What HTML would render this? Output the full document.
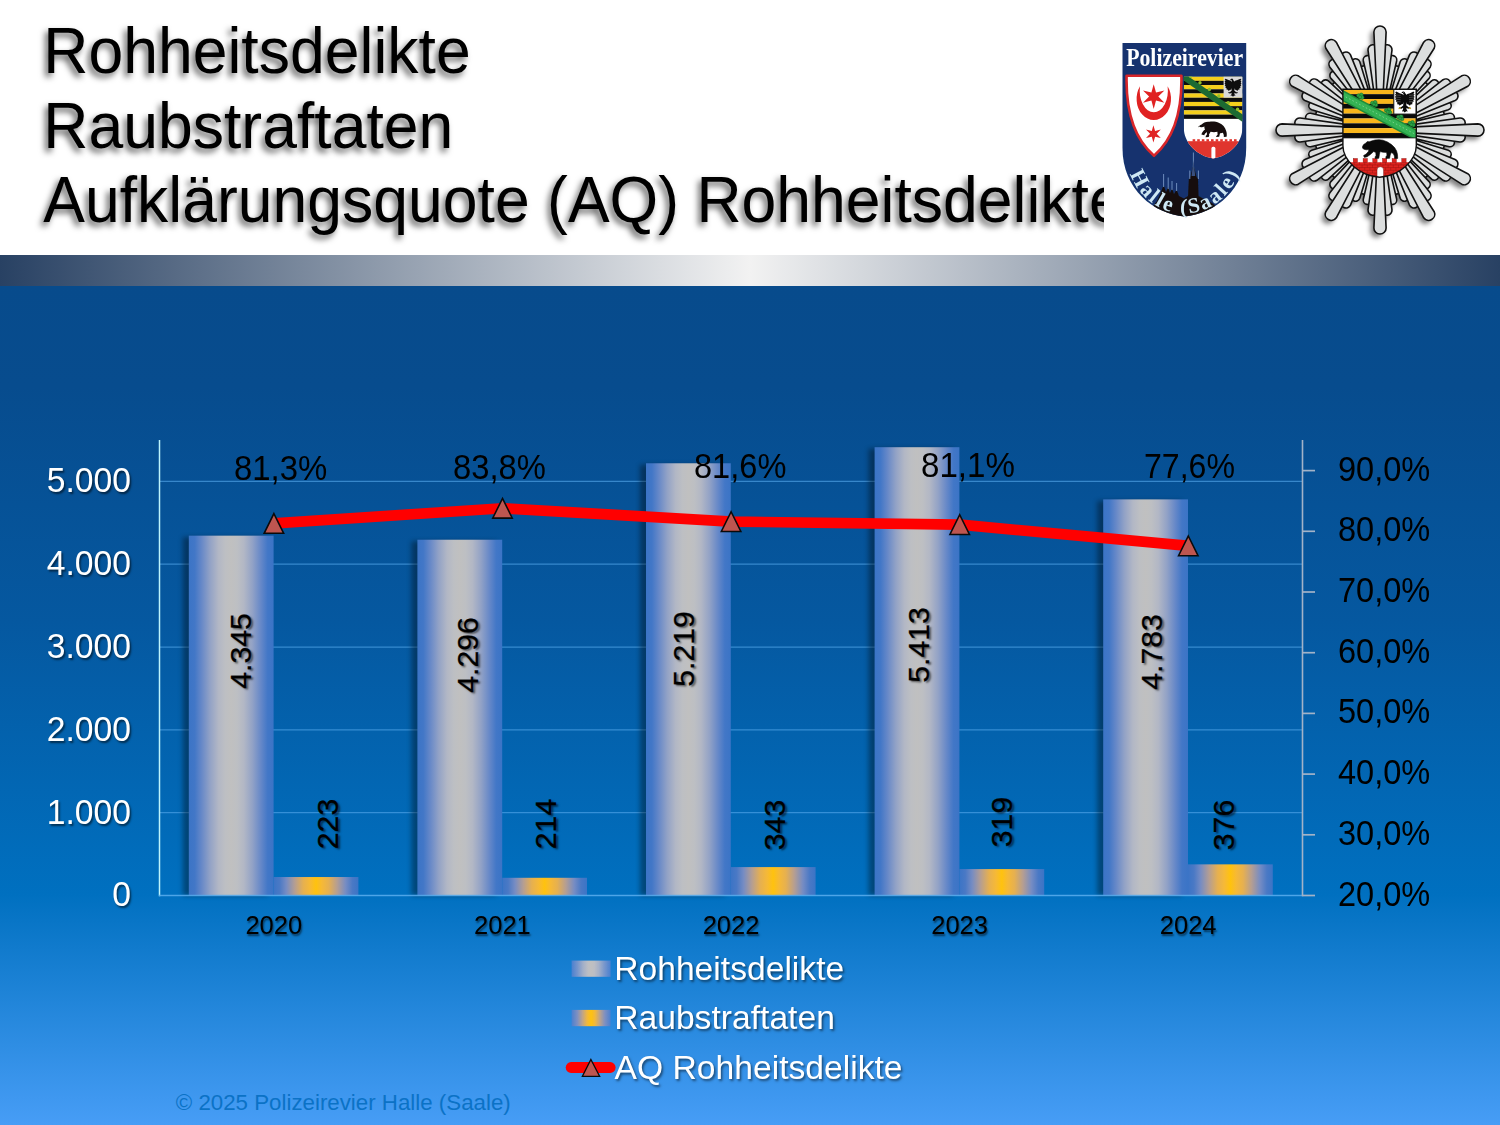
<!DOCTYPE html>
<html><head><meta charset="utf-8"><title>Rohheitsdelikte</title>
<style>
html,body{margin:0;padding:0}
body{width:1500px;height:1125px;overflow:hidden;background:#fff;position:relative;font-family:"Liberation Sans",sans-serif}
.abs{position:absolute}
#bg{position:absolute;left:0;top:286px;width:1500px;height:839px;background:linear-gradient(180deg,#074b8c 0%,#074c8e 12%,#0558a0 40%,#0070c0 72.5%,#479df6 100%)}
#band{position:absolute;left:0;top:255px;width:1500px;height:31px;background:linear-gradient(90deg,#284163 0%,#f2f2f2 50%,#284163 100%)}
#title{position:absolute;left:0;top:0;width:1104px;height:255px;overflow:hidden;color:#000}
#title div{position:absolute;left:43.3px;top:12.8px;font-size:62.5px;line-height:71.58px;white-space:nowrap;transform-origin:0 0;transform:scaleY(1.045);text-shadow:-3px 4px 6px rgba(0,0,0,.62)}
.t{position:absolute;line-height:40px;white-space:nowrap}
.yl{color:#fff;text-shadow:1.5px 1.5px 2px rgba(0,0,0,.55)}
.xl{color:#000;text-shadow:1px 1.5px 2px rgba(0,0,0,.55)}
.rl,.pl{color:#000}
.rt{position:absolute;width:0;height:0}
.rt span{-webkit-text-stroke:0.25px #000;position:absolute;left:-60px;top:-20px;width:120px;height:40px;line-height:40px;text-align:center;font-size:29.6px;color:#000;transform:rotate(-90deg) scaleX(1.02);text-shadow:-1.5px 1.5px 2px rgba(0,0,0,.55);white-space:nowrap}
.lg{color:#fff;text-shadow:1.5px 2px 2.5px rgba(0,0,0,.5)}
.ft{color:#0b72c6}
</style></head>
<body>
<div id="title"><div>Rohheitsdelikte<br>Raubstraftaten<br>Aufklärungsquote (AQ) Rohheitsdelikte</div></div>
<div id="band"></div>
<div id="bg"></div>
<svg class="abs" style="left:0;top:0" width="1500" height="1125" viewBox="0 0 1500 1125"><defs>
<linearGradient id="gGrey" x1="0" x2="1" y1="0" y2="0"><stop offset="0" stop-color="#3b74c6"/><stop offset="0.07" stop-color="#4277c7"/><stop offset="0.15" stop-color="#6688c8"/><stop offset="0.25" stop-color="#92a2c6"/><stop offset="0.35" stop-color="#b2b7c5"/><stop offset="0.43" stop-color="#bdbfc3"/><stop offset="0.5" stop-color="#c0c0c0"/><stop offset="0.57" stop-color="#bdbfc3"/><stop offset="0.65" stop-color="#b2b7c5"/><stop offset="0.75" stop-color="#92a2c6"/><stop offset="0.85" stop-color="#6688c8"/><stop offset="0.93" stop-color="#4277c7"/><stop offset="1" stop-color="#3b74c6"/></linearGradient>
<linearGradient id="gOr" x1="0" x2="1" y1="0" y2="0"><stop offset="0" stop-color="#3b74c6"/><stop offset="0.07" stop-color="#4a79c5"/><stop offset="0.15" stop-color="#768cc3"/><stop offset="0.25" stop-color="#b59e92"/><stop offset="0.35" stop-color="#e6b050"/><stop offset="0.43" stop-color="#f6b936"/><stop offset="0.5" stop-color="#ffc20e"/><stop offset="0.57" stop-color="#f6b936"/><stop offset="0.65" stop-color="#e6b050"/><stop offset="0.75" stop-color="#b59e92"/><stop offset="0.85" stop-color="#768cc3"/><stop offset="0.93" stop-color="#4a79c5"/><stop offset="1" stop-color="#3b74c6"/></linearGradient>
<linearGradient id="gGreyL" x1="0" x2="1" y1="0" y2="0"><stop offset="0" stop-color="#4a80d0"/><stop offset="0.15" stop-color="#7595cc"/><stop offset="0.3" stop-color="#a4b0c8"/><stop offset="0.42" stop-color="#bcbec4"/><stop offset="0.5" stop-color="#c0c0c0"/><stop offset="0.58" stop-color="#bcbec4"/><stop offset="0.7" stop-color="#a4b0c8"/><stop offset="0.85" stop-color="#7595cc"/><stop offset="1" stop-color="#4a80d0"/></linearGradient>
<linearGradient id="gOrL" x1="0" x2="1" y1="0" y2="0"><stop offset="0" stop-color="#4a80d0"/><stop offset="0.15" stop-color="#8090c0"/><stop offset="0.28" stop-color="#c0a488"/><stop offset="0.4" stop-color="#f2b83c"/><stop offset="0.5" stop-color="#ffc20e"/><stop offset="0.6" stop-color="#f2b83c"/><stop offset="0.72" stop-color="#c0a488"/><stop offset="0.85" stop-color="#8090c0"/><stop offset="1" stop-color="#4a80d0"/></linearGradient>
<filter id="lsw" x="-10%" y="-20%" width="120%" height="140%"><feGaussianBlur stdDeviation="0.7"/></filter>
<filter id="bsh" x="-20%" y="-5%" width="140%" height="110%"><feGaussianBlur stdDeviation="2.7"/></filter>
</defs><line x1="160.0" y1="812.68" x2="1303.0" y2="812.68" stroke="#56a8ec" stroke-opacity="0.62" stroke-width="1.25"/><line x1="160.0" y1="729.86" x2="1303.0" y2="729.86" stroke="#56a8ec" stroke-opacity="0.62" stroke-width="1.25"/><line x1="160.0" y1="647.04" x2="1303.0" y2="647.04" stroke="#56a8ec" stroke-opacity="0.62" stroke-width="1.25"/><line x1="160.0" y1="564.22" x2="1303.0" y2="564.22" stroke="#56a8ec" stroke-opacity="0.62" stroke-width="1.25"/><line x1="160.0" y1="481.40" x2="1303.0" y2="481.40" stroke="#56a8ec" stroke-opacity="0.62" stroke-width="1.25"/><rect x="182.80" y="537.15" width="84.80" height="358.35" fill="#000" opacity="0.36" filter="url(#bsh)"/><rect x="188.80" y="535.65" width="84.80" height="359.85" fill="url(#gGrey)"/><rect x="273.60" y="877.03" width="84.80" height="18.47" fill="url(#gOr)"/><rect x="411.40" y="541.21" width="84.80" height="354.29" fill="#000" opacity="0.36" filter="url(#bsh)"/><rect x="417.40" y="539.71" width="84.80" height="355.79" fill="url(#gGrey)"/><rect x="502.20" y="877.78" width="84.80" height="17.72" fill="url(#gOr)"/><rect x="640.00" y="464.76" width="84.80" height="430.74" fill="#000" opacity="0.36" filter="url(#bsh)"/><rect x="646.00" y="463.26" width="84.80" height="432.24" fill="url(#gGrey)"/><rect x="730.80" y="867.09" width="84.80" height="28.41" fill="url(#gOr)"/><rect x="868.60" y="448.70" width="84.80" height="446.80" fill="#000" opacity="0.36" filter="url(#bsh)"/><rect x="874.60" y="447.20" width="84.80" height="448.30" fill="url(#gGrey)"/><rect x="959.40" y="869.08" width="84.80" height="26.42" fill="url(#gOr)"/><rect x="1097.20" y="500.87" width="84.80" height="394.63" fill="#000" opacity="0.36" filter="url(#bsh)"/><rect x="1103.20" y="499.37" width="84.80" height="396.13" fill="url(#gGrey)"/><rect x="1188.00" y="864.36" width="84.80" height="31.14" fill="url(#gOr)"/><line x1="159.5" y1="440.0" x2="159.5" y2="896.2" stroke="#bdf4fc" stroke-width="1.5"/><line x1="159.0" y1="895.5" x2="1303.0" y2="895.5" stroke="#5aaeee" stroke-opacity="0.85" stroke-width="1.3"/><line x1="1302.5" y1="440.0" x2="1302.5" y2="896.2" stroke="#a3b3c8" stroke-width="1.6"/><line x1="1302.5" y1="895.50" x2="1315.0" y2="895.50" stroke="#a3b3c8" stroke-width="1.7"/><line x1="1302.5" y1="834.80" x2="1315.0" y2="834.80" stroke="#a3b3c8" stroke-width="1.7"/><line x1="1302.5" y1="774.10" x2="1315.0" y2="774.10" stroke="#a3b3c8" stroke-width="1.7"/><line x1="1302.5" y1="713.40" x2="1315.0" y2="713.40" stroke="#a3b3c8" stroke-width="1.7"/><line x1="1302.5" y1="652.70" x2="1315.0" y2="652.70" stroke="#a3b3c8" stroke-width="1.7"/><line x1="1302.5" y1="592.00" x2="1315.0" y2="592.00" stroke="#a3b3c8" stroke-width="1.7"/><line x1="1302.5" y1="531.30" x2="1315.0" y2="531.30" stroke="#a3b3c8" stroke-width="1.7"/><line x1="1302.5" y1="470.60" x2="1315.0" y2="470.60" stroke="#a3b3c8" stroke-width="1.7"/><polyline fill="none" stroke="#ff0000" stroke-width="10.7" stroke-linejoin="round" stroke-linecap="butt" points="274.30,523.41 502.90,508.23 731.50,521.59 960.10,524.62 1188.70,545.87"/><path d="M273.90 513.56 L283.66 533.31 L264.14 533.31 Z" fill="#be5650" stroke="#0a0a0a" stroke-width="1.55" stroke-linejoin="miter"/><path d="M502.50 498.38 L512.26 518.13 L492.74 518.13 Z" fill="#be5650" stroke="#0a0a0a" stroke-width="1.55" stroke-linejoin="miter"/><path d="M731.10 511.74 L740.86 531.49 L721.34 531.49 Z" fill="#be5650" stroke="#0a0a0a" stroke-width="1.55" stroke-linejoin="miter"/><path d="M959.70 514.77 L969.46 534.52 L949.94 534.52 Z" fill="#be5650" stroke="#0a0a0a" stroke-width="1.55" stroke-linejoin="miter"/><path d="M1188.30 536.02 L1198.06 555.77 L1178.54 555.77 Z" fill="#be5650" stroke="#0a0a0a" stroke-width="1.55" stroke-linejoin="miter"/><rect x="571.6" y="960.6" width="39" height="16.2" fill="url(#gGreyL)" filter="url(#lsw)"/><rect x="571.6" y="1009.9" width="39" height="16.3" fill="url(#gOrL)" filter="url(#lsw)"/><line x1="571.1" y1="1067.5" x2="610.2" y2="1067.5" stroke="#ff0000" stroke-width="10.8" stroke-linecap="round"/><path d="M590.9 1059.5 L599.6 1076.3 L582.4 1076.3 Z" fill="#be5650" stroke="#0a0a0a" stroke-width="1.35"/></svg>
<div class="t yl" style="top:874.42px;font-size:33.7px;left:-169.00px;width:300px;text-align:right;transform-origin:100% 31.68px;transform:scale(1.0,1.04);">0</div><div class="t yl" style="top:791.60px;font-size:33.7px;left:-169.00px;width:300px;text-align:right;transform-origin:100% 31.68px;transform:scale(1.0,1.04);">1.000</div><div class="t yl" style="top:708.78px;font-size:33.7px;left:-169.00px;width:300px;text-align:right;transform-origin:100% 31.68px;transform:scale(1.0,1.04);">2.000</div><div class="t yl" style="top:625.96px;font-size:33.7px;left:-169.00px;width:300px;text-align:right;transform-origin:100% 31.68px;transform:scale(1.0,1.04);">3.000</div><div class="t yl" style="top:543.14px;font-size:33.7px;left:-169.00px;width:300px;text-align:right;transform-origin:100% 31.68px;transform:scale(1.0,1.04);">4.000</div><div class="t yl" style="top:460.32px;font-size:33.7px;left:-169.00px;width:300px;text-align:right;transform-origin:100% 31.68px;transform:scale(1.0,1.04);">5.000</div><div class="t xl" style="top:905.16px;font-size:25.5px;left:123.80px;width:300px;text-align:center;transform-origin:50% 28.84px;transform:scale(1.0,1.03);">2020</div><div class="t xl" style="top:905.16px;font-size:25.5px;left:352.40px;width:300px;text-align:center;transform-origin:50% 28.84px;transform:scale(1.0,1.03);">2021</div><div class="t xl" style="top:905.16px;font-size:25.5px;left:581.00px;width:300px;text-align:center;transform-origin:50% 28.84px;transform:scale(1.0,1.03);">2022</div><div class="t xl" style="top:905.16px;font-size:25.5px;left:809.60px;width:300px;text-align:center;transform-origin:50% 28.84px;transform:scale(1.0,1.03);">2023</div><div class="t xl" style="top:905.16px;font-size:25.5px;left:1038.20px;width:300px;text-align:center;transform-origin:50% 28.84px;transform:scale(1.0,1.03);">2024</div><div class="t rl" style="top:873.55px;font-size:34.5px;left:1337.80px;transform-origin:0 31.95px;transform:scale(0.942,1.0);">20,0%</div><div class="t rl" style="top:812.85px;font-size:34.5px;left:1337.80px;transform-origin:0 31.95px;transform:scale(0.942,1.0);">30,0%</div><div class="t rl" style="top:752.15px;font-size:34.5px;left:1337.80px;transform-origin:0 31.95px;transform:scale(0.942,1.0);">40,0%</div><div class="t rl" style="top:691.45px;font-size:34.5px;left:1337.80px;transform-origin:0 31.95px;transform:scale(0.942,1.0);">50,0%</div><div class="t rl" style="top:630.75px;font-size:34.5px;left:1337.80px;transform-origin:0 31.95px;transform:scale(0.942,1.0);">60,0%</div><div class="t rl" style="top:570.05px;font-size:34.5px;left:1337.80px;transform-origin:0 31.95px;transform:scale(0.942,1.0);">70,0%</div><div class="t rl" style="top:509.35px;font-size:34.5px;left:1337.80px;transform-origin:0 31.95px;transform:scale(0.942,1.0);">80,0%</div><div class="t rl" style="top:448.65px;font-size:34.5px;left:1337.80px;transform-origin:0 31.95px;transform:scale(0.942,1.0);">90,0%</div><div class="t pl" style="top:448.35px;font-size:34.5px;left:233.80px;transform-origin:0 31.95px;transform:scale(0.953,1.0);">81,3%</div><div class="t pl" style="top:446.95px;font-size:34.5px;left:452.50px;transform-origin:0 31.95px;transform:scale(0.949,1.0);">83,8%</div><div class="t pl" style="top:445.95px;font-size:34.5px;left:693.60px;transform-origin:0 31.95px;transform:scale(0.944,1.0);">81,6%</div><div class="t pl" style="top:444.85px;font-size:34.5px;left:921.10px;transform-origin:0 31.95px;transform:scale(0.96,1.0);">81,1%</div><div class="t pl" style="top:446.05px;font-size:34.5px;left:1144.40px;transform-origin:0 31.95px;transform:scale(0.93,1.0);">77,6%</div><div class="rt" style="left:240.9px;top:651.4px"><span>4.345</span></div><div class="rt" style="left:468.4px;top:655.0px"><span>4.296</span></div><div class="rt" style="left:683.6px;top:649.1px"><span>5.219</span></div><div class="rt" style="left:918.6px;top:644.9px"><span>5.413</span></div><div class="rt" style="left:1151.7px;top:652.1px"><span>4.783</span></div><div class="rt" style="left:328.2px;top:823.8px"><span>223</span></div><div class="rt" style="left:546.0px;top:824.0px"><span>214</span></div><div class="rt" style="left:774.8px;top:825.0px"><span>343</span></div><div class="rt" style="left:1002.0px;top:822.0px"><span>319</span></div><div class="rt" style="left:1223.8px;top:825.3px"><span>376</span></div><div class="t lg" style="top:948.84px;font-size:33.65px;left:614.20px;transform-origin:0 31.66px;transform:scale(1.0,0.985);">Rohheitsdelikte</div><div class="t lg" style="top:997.94px;font-size:33.65px;left:614.20px;transform-origin:0 31.66px;transform:scale(1.0,0.985);">Raubstraftaten</div><div class="t lg" style="top:1047.64px;font-size:33.65px;left:614.60px;transform-origin:0 31.66px;transform:scale(1.0,0.985);">AQ Rohheitsdelikte</div><div class="t ft" style="top:1082.87px;font-size:22.3px;left:175.80px;transform-origin:0 27.73px;">© 2025 Polizeirevier Halle (Saale)</div>
<svg class="abs" id="shield" style="left:0;top:0" width="1500" height="260" viewBox="0 0 1500 260"><defs><clipPath id="shclip"><path d="M1122.5 43.0H1246.2V148C1246.2 190 1214.35 214 1184.35 216.4C1154.35 214 1122.5 190 1122.5 148Z"/></clipPath><filter id="shblur" x="-5%" y="-5%" width="110%" height="110%"><feGaussianBlur stdDeviation="0.55"/></filter><path id="arc" d="M1125.85 150A58.5 63.5 0 0 0 1242.85 150"/></defs><g filter="url(#shblur)"><path d="M1122.5 43.0H1246.2V148C1246.2 190 1214.35 214 1184.35 216.4C1154.35 214 1122.5 190 1122.5 148Z" fill="#12336e"/><g clip-path="url(#shclip)"><path d="M1148 222 L1151 209 L1157 201 L1160.5 193 L1163.6 185 L1166 192 L1168.2 187 L1170 193 L1172 188.5 L1174 194 L1176.6 189.5 L1179 196 L1184 198.5 L1188 196 L1188.8 179 L1190.4 176.5 L1193.4 165 L1196.4 176.5 L1198 179 L1198.6 196 L1204 199 L1212 203 L1218 208 L1221 222 Z" fill="#15110f"/><path d="M1193.4 152.5V167M1189.8 170.5V179M1198.4 170.5V179M1163.6 174V187M1168.2 177.5V189M1172 181V190M1176.6 183V191" stroke="#7f9bcb" stroke-width="1" fill="none" opacity="0.85"/><path d="M1193.4 160L1191.6 176H1195.2Z" fill="#39507f"/></g><text x="1184.6499999999999" y="66.4" text-anchor="middle" font-family="Liberation Serif" font-weight="bold" font-size="21.4" fill="#fff" transform="translate(0 66.4) scale(1 1.2) translate(0 -66.4)" textLength="117" lengthAdjust="spacingAndGlyphs">Polizeirevier</text><path d="M1126.6 75.8H1181.4C1182.4 118 1170.0 142 1154.0 155.8C1138.0 142 1125.6 118 1126.6 75.8Z" fill="#fff" stroke="#d8262a" stroke-width="2.6" stroke-linejoin="round"/><path fill="#e02222" d="M1140 86.2A17.2 21.2 0 1 0 1167.6 86.2A14.1 21.6 0 1 1 1140 86.2Z"/><polygon fill="#e02222" points="1153.7,84.2 1156.0,92.6 1164.4,90.4 1158.3,96.6 1164.4,102.8 1156.0,100.6 1153.7,109.0 1151.4,100.6 1143.0,102.8 1149.1,96.6 1143.0,90.4 1151.4,92.6"/><polygon fill="#e02222" points="1153.4,125.2 1155.1,130.9 1160.8,129.5 1156.7,133.8 1160.8,138.1 1155.1,136.7 1153.4,142.4 1151.8,136.7 1146.0,138.1 1150.1,133.8 1146.0,129.5 1151.8,130.9"/><clipPath id="saclip"><path d="M1183.8 76.6H1242.4V128C1242.4 142 1230.1 156 1213.1 158.4C1196.1 156 1183.8 142 1183.8 128Z"/></clipPath><g clip-path="url(#saclip)"><rect x="1183.8" y="76.6" width="58.600000000000136" height="90" fill="#fff"/><rect x="1183.8" y="76.60" width="58.600000000000136" height="4.27" fill="#f4cf1c"/><rect x="1183.8" y="80.82" width="58.600000000000136" height="4.27" fill="#0c0c0c"/><rect x="1183.8" y="85.04" width="58.600000000000136" height="4.27" fill="#f4cf1c"/><rect x="1183.8" y="89.26" width="58.600000000000136" height="4.27" fill="#0c0c0c"/><rect x="1183.8" y="93.48" width="58.600000000000136" height="4.27" fill="#f4cf1c"/><rect x="1183.8" y="97.70" width="58.600000000000136" height="4.27" fill="#0c0c0c"/><rect x="1183.8" y="101.92" width="58.600000000000136" height="4.27" fill="#f4cf1c"/><rect x="1183.8" y="106.14" width="58.600000000000136" height="4.27" fill="#0c0c0c"/><rect x="1183.8" y="110.36" width="58.600000000000136" height="4.27" fill="#f4cf1c"/><rect x="1183.8" y="114.58" width="58.600000000000136" height="4.27" fill="#0c0c0c"/><rect x="1223.6" y="76.6" width="19" height="21" fill="#d9d9d9"/><path d="M1233.5 80.5L1233.0 79.3L1232.1 78.6L1230.9 78.9L1230.1 80.0L1231.3 80.0L1231.8 80.8L1232.0 81.9L1230.8 80.8L1228.5 80.1L1225.6 78.8L1224.7 79.5L1225.6 80.5L1224.6 81.4L1225.4 82.4L1224.5 83.3L1225.4 84.4L1224.7 85.4L1225.8 86.3L1225.3 87.5L1226.6 88.2L1226.5 89.6L1228.0 89.8L1228.5 91.0L1229.9 90.0L1231.3 89.4L1231.8 87.7L1231.6 90.7L1229.7 92.2L1228.2 92.0L1228.7 93.2L1230.2 93.6L1231.6 92.7L1231.5 94.3L1230.4 96.0L1231.8 95.6L1233.0 96.8L1234.2 95.6L1235.6 96.0L1234.5 94.3L1234.4 92.7L1235.8 93.6L1237.3 93.2L1237.8 92.0L1236.3 92.2L1234.4 90.7L1234.2 87.7L1234.7 89.4L1236.1 90.0L1237.5 91.0L1238.0 89.8L1239.5 89.6L1239.4 88.2L1240.7 87.5L1240.2 86.3L1241.3 85.4L1240.6 84.4L1241.5 83.3L1240.6 82.4L1241.4 81.4L1240.4 80.5L1241.3 79.5L1240.4 78.8L1237.5 80.1L1235.2 80.8L1234.0 81.9L1234.4 81.4Z" fill="#0c0c0c"/><path d="M1180.0 78.0L1242.6 122.0L1246.2 117.0L1183.6 73.0Z" fill="#1f6a33"/><g fill="#8fbf2a"><circle cx="1190.6" cy="76.2" r="1.7"/><circle cx="1200.0" cy="82.8" r="1.7"/><circle cx="1209.4" cy="89.4" r="1.7"/><circle cx="1218.8" cy="96.0" r="1.7"/><circle cx="1228.2" cy="102.6" r="1.7"/><circle cx="1237.6" cy="109.2" r="1.7"/></g><rect x="1183.8" y="141.2" width="58.600000000000136" height="20" fill="#e0342e"/><rect x="1192.6" y="139.2" width="2.6" height="2.4" fill="#e0342e"/><rect x="1197.2" y="139.2" width="2.6" height="2.4" fill="#e0342e"/><rect x="1201.8" y="139.2" width="2.6" height="2.4" fill="#e0342e"/><rect x="1206.4" y="139.2" width="2.6" height="2.4" fill="#e0342e"/><rect x="1211.0" y="139.2" width="2.6" height="2.4" fill="#e0342e"/><rect x="1215.6" y="139.2" width="2.6" height="2.4" fill="#e0342e"/><rect x="1220.2" y="139.2" width="2.6" height="2.4" fill="#e0342e"/><rect x="1224.8" y="139.2" width="2.6" height="2.4" fill="#e0342e"/><rect x="1229.4" y="139.2" width="2.6" height="2.4" fill="#e0342e"/><rect x="1234.0" y="139.2" width="2.6" height="2.4" fill="#e0342e"/><rect x="1211.4" y="146.8" width="4" height="12" rx="1.6" fill="#fff"/><path d="M1198.2 128 c0.4 -1.8 1.8 -3 3.4 -3.4 c1.6 -2.2 4.6 -3.2 7.8 -2.8 c3.2 -0.6 6.8 -0.2 9.8 1.2 c3.4 1.4 6 4.2 6.8 7.6 c0.8 2 1 4.2 0.6 6.2 l-2.8 0.2 c0.2 -1.6 -0.2 -3 -1 -4.2 c-0.8 0.4 -1.8 0.6 -2.8 0.4 l-0.8 3.6 l-3.2 0.2 c0.2 -1 0.8 -1.8 1.6 -2.2 l-0.2 -3 c-2.2 0.6 -4.6 0.6 -6.8 0 l-1.6 2.6 c0.4 0.8 0.2 1.8 -0.4 2.6 l-3 0.2 c0 -1 0.4 -1.8 1.2 -2.4 l0.2 -2.8 c-1.2 0.8 -2.2 1.8 -2.8 3.2 l-2.8 -0.6 c0.6 -2 1.8 -3.8 3.6 -5 c-0.6 -1 -0.8 -2 -0.6 -3 c-1.4 0.6 -2.8 0.8 -4.2 0.4 c-0.8 -0.2 -1.4 -0.6 -1.6 -1.2 Z" fill="#14110e"/></g><text font-family="Liberation Serif" font-weight="bold" font-size="21.5" fill="#cfe8f4"><textPath href="#arc" startOffset="50%" text-anchor="middle" textLength="143" lengthAdjust="spacing">Halle (Saale)</textPath></text></g></svg>
<svg class="abs" id="star" style="left:0;top:0" width="1500" height="260" viewBox="0 0 1500 260"><defs><filter id="stsh" x="-10%" y="-10%" width="120%" height="120%"><feGaussianBlur stdDeviation="2.5"/></filter></defs><g fill="#000" opacity="0.5" filter="url(#stsh)" transform="translate(-3.6 3.8)"><path d="M1384.7 106.4L1392.3 68.6A4.0 4.0 0 0 1 1400.0 70.7L1387.8 107.2ZM1395.8 111.9L1421.4 83.0A4.0 4.0 0 0 1 1427.0 88.6L1398.1 114.2ZM1402.8 122.2L1439.3 110.0A4.0 4.0 0 0 1 1441.4 117.7L1403.6 125.3ZM1403.6 134.7L1441.4 142.3A4.0 4.0 0 0 1 1439.3 150.0L1402.8 137.8ZM1398.1 145.8L1427.0 171.4A4.0 4.0 0 0 1 1421.4 177.0L1395.8 148.1ZM1387.8 152.8L1400.0 189.3A4.0 4.0 0 0 1 1392.3 191.4L1384.7 153.6ZM1375.3 153.6L1367.7 191.4A4.0 4.0 0 0 1 1360.0 189.3L1372.2 152.8ZM1364.2 148.1L1338.6 177.0A4.0 4.0 0 0 1 1333.0 171.4L1361.9 145.8ZM1357.2 137.8L1320.7 150.0A4.0 4.0 0 0 1 1318.6 142.3L1356.4 134.7ZM1356.4 125.3L1318.6 117.7A4.0 4.0 0 0 1 1320.7 110.0L1357.2 122.2ZM1361.9 114.2L1333.0 88.6A4.0 4.0 0 0 1 1338.6 83.0L1364.2 111.9ZM1372.2 107.2L1360.0 70.7A4.0 4.0 0 0 1 1367.7 68.6L1375.3 106.4Z"/><path d="M1382.4 106.1L1388.0 59.2A4.4 4.4 0 0 1 1396.7 60.7L1385.9 106.7ZM1374.1 106.7L1363.3 60.7A4.4 4.4 0 0 1 1372.0 59.2L1377.6 106.1ZM1394.0 110.5L1422.3 72.7A4.4 4.4 0 0 1 1429.1 78.4L1396.8 112.8ZM1386.5 106.8L1400.2 61.7A4.4 4.4 0 0 1 1408.5 64.7L1389.9 108.1ZM1401.9 120.1L1445.3 101.5A4.4 4.4 0 0 1 1448.3 109.8L1403.2 123.5ZM1397.2 113.2L1431.6 80.9A4.4 4.4 0 0 1 1437.3 87.7L1399.5 116.0ZM1403.9 132.4L1450.8 138.0A4.4 4.4 0 0 1 1449.3 146.7L1403.3 135.9ZM1403.3 124.1L1449.3 113.3A4.4 4.4 0 0 1 1450.8 122.0L1403.9 127.6ZM1399.5 144.0L1437.3 172.3A4.4 4.4 0 0 1 1431.6 179.1L1397.2 146.8ZM1403.2 136.5L1448.3 150.2A4.4 4.4 0 0 1 1445.3 158.5L1401.9 139.9ZM1389.9 151.9L1408.5 195.3A4.4 4.4 0 0 1 1400.2 198.3L1386.5 153.2ZM1396.8 147.2L1429.1 181.6A4.4 4.4 0 0 1 1422.3 187.3L1394.0 149.5ZM1377.6 153.9L1372.0 200.8A4.4 4.4 0 0 1 1363.3 199.3L1374.1 153.3ZM1385.9 153.3L1396.7 199.3A4.4 4.4 0 0 1 1388.0 200.8L1382.4 153.9ZM1366.0 149.5L1337.7 187.3A4.4 4.4 0 0 1 1330.9 181.6L1363.2 147.2ZM1373.5 153.2L1359.8 198.3A4.4 4.4 0 0 1 1351.5 195.3L1370.1 151.9ZM1358.1 139.9L1314.7 158.5A4.4 4.4 0 0 1 1311.7 150.2L1356.8 136.5ZM1362.8 146.8L1328.4 179.1A4.4 4.4 0 0 1 1322.7 172.3L1360.5 144.0ZM1356.1 127.6L1309.2 122.0A4.4 4.4 0 0 1 1310.7 113.3L1356.7 124.1ZM1356.7 135.9L1310.7 146.7A4.4 4.4 0 0 1 1309.2 138.0L1356.1 132.4ZM1360.5 116.0L1322.7 87.7A4.4 4.4 0 0 1 1328.4 80.9L1362.8 113.2ZM1356.8 123.5L1311.7 109.8A4.4 4.4 0 0 1 1314.7 101.5L1358.1 120.1ZM1370.1 108.1L1351.5 64.7A4.4 4.4 0 0 1 1359.8 61.7L1373.5 106.8ZM1363.2 112.8L1330.9 78.4A4.4 4.4 0 0 1 1337.7 72.7L1366.0 110.5Z"/><path d="M1380.1 105.9L1382.0 49.4A5.0 5.0 0 0 1 1392.0 50.2L1384.1 106.3ZM1375.9 106.3L1368.0 50.2A5.0 5.0 0 0 1 1378.0 49.4L1379.9 105.9ZM1392.1 109.2L1422.1 61.2A5.0 5.0 0 0 1 1430.3 66.9L1395.4 111.5ZM1388.3 107.4L1409.5 54.9A5.0 5.0 0 0 1 1418.6 59.2L1392.0 109.1ZM1400.9 118.0L1450.8 91.4A5.0 5.0 0 0 1 1455.1 100.5L1402.6 121.7ZM1398.5 114.6L1443.1 79.7A5.0 5.0 0 0 1 1448.8 87.9L1400.8 117.9ZM1404.1 130.1L1460.6 132.0A5.0 5.0 0 0 1 1459.8 142.0L1403.7 134.1ZM1403.7 125.9L1459.8 118.0A5.0 5.0 0 0 1 1460.6 128.0L1404.1 129.9ZM1400.8 142.1L1448.8 172.1A5.0 5.0 0 0 1 1443.1 180.3L1398.5 145.4ZM1402.6 138.3L1455.1 159.5A5.0 5.0 0 0 1 1450.8 168.6L1400.9 142.0ZM1392.0 150.9L1418.6 200.8A5.0 5.0 0 0 1 1409.5 205.1L1388.3 152.6ZM1395.4 148.5L1430.3 193.1A5.0 5.0 0 0 1 1422.1 198.8L1392.1 150.8ZM1379.9 154.1L1378.0 210.6A5.0 5.0 0 0 1 1368.0 209.8L1375.9 153.7ZM1384.1 153.7L1392.0 209.8A5.0 5.0 0 0 1 1382.0 210.6L1380.1 154.1ZM1367.9 150.8L1337.9 198.8A5.0 5.0 0 0 1 1329.7 193.1L1364.6 148.5ZM1371.7 152.6L1350.5 205.1A5.0 5.0 0 0 1 1341.4 200.8L1368.0 150.9ZM1359.1 142.0L1309.2 168.6A5.0 5.0 0 0 1 1304.9 159.5L1357.4 138.3ZM1361.5 145.4L1316.9 180.3A5.0 5.0 0 0 1 1311.2 172.1L1359.2 142.1ZM1355.9 129.9L1299.4 128.0A5.0 5.0 0 0 1 1300.2 118.0L1356.3 125.9ZM1356.3 134.1L1300.2 142.0A5.0 5.0 0 0 1 1299.4 132.0L1355.9 130.1ZM1359.2 117.9L1311.2 87.9A5.0 5.0 0 0 1 1316.9 79.7L1361.5 114.6ZM1357.4 121.7L1304.9 100.5A5.0 5.0 0 0 1 1309.2 91.4L1359.1 118.0ZM1368.0 109.1L1341.4 59.2A5.0 5.0 0 0 1 1350.5 54.9L1371.7 107.4ZM1364.6 111.5L1329.7 66.9A5.0 5.0 0 0 1 1337.9 61.2L1367.9 109.2Z"/><path d="M1377.4 106.0L1373.9 32.1A6.1 6.1 0 0 1 1386.1 32.1L1382.6 106.0ZM1389.7 107.9L1423.7 42.2A6.1 6.1 0 0 1 1434.2 48.3L1394.3 110.5ZM1399.5 115.7L1461.7 75.8A6.1 6.1 0 0 1 1467.8 86.3L1402.1 120.3ZM1404.0 127.4L1477.9 123.9A6.1 6.1 0 0 1 1477.9 136.1L1404.0 132.6ZM1402.1 139.7L1467.8 173.7A6.1 6.1 0 0 1 1461.7 184.2L1399.5 144.3ZM1394.3 149.5L1434.2 211.7A6.1 6.1 0 0 1 1423.7 217.8L1389.7 152.1ZM1382.6 154.0L1386.1 227.9A6.1 6.1 0 0 1 1373.9 227.9L1377.4 154.0ZM1370.3 152.1L1336.3 217.8A6.1 6.1 0 0 1 1325.8 211.7L1365.7 149.5ZM1360.5 144.3L1298.3 184.2A6.1 6.1 0 0 1 1292.2 173.7L1357.9 139.7ZM1356.0 132.6L1282.1 136.1A6.1 6.1 0 0 1 1282.1 123.9L1356.0 127.4ZM1357.9 120.3L1292.2 86.3A6.1 6.1 0 0 1 1298.3 75.8L1360.5 115.7ZM1365.7 110.5L1325.8 48.3A6.1 6.1 0 0 1 1336.3 42.2L1370.3 107.9Z"/></g><g fill="#dcdede" stroke="#111" stroke-width="1.6" stroke-linejoin="round"><path d="M1384.7 106.4L1392.3 68.6A4.0 4.0 0 0 1 1400.0 70.7L1387.8 107.2ZM1395.8 111.9L1421.4 83.0A4.0 4.0 0 0 1 1427.0 88.6L1398.1 114.2ZM1402.8 122.2L1439.3 110.0A4.0 4.0 0 0 1 1441.4 117.7L1403.6 125.3ZM1403.6 134.7L1441.4 142.3A4.0 4.0 0 0 1 1439.3 150.0L1402.8 137.8ZM1398.1 145.8L1427.0 171.4A4.0 4.0 0 0 1 1421.4 177.0L1395.8 148.1ZM1387.8 152.8L1400.0 189.3A4.0 4.0 0 0 1 1392.3 191.4L1384.7 153.6ZM1375.3 153.6L1367.7 191.4A4.0 4.0 0 0 1 1360.0 189.3L1372.2 152.8ZM1364.2 148.1L1338.6 177.0A4.0 4.0 0 0 1 1333.0 171.4L1361.9 145.8ZM1357.2 137.8L1320.7 150.0A4.0 4.0 0 0 1 1318.6 142.3L1356.4 134.7ZM1356.4 125.3L1318.6 117.7A4.0 4.0 0 0 1 1320.7 110.0L1357.2 122.2ZM1361.9 114.2L1333.0 88.6A4.0 4.0 0 0 1 1338.6 83.0L1364.2 111.9ZM1372.2 107.2L1360.0 70.7A4.0 4.0 0 0 1 1367.7 68.6L1375.3 106.4Z"/><path d="M1382.4 106.1L1388.0 59.2A4.4 4.4 0 0 1 1396.7 60.7L1385.9 106.7ZM1374.1 106.7L1363.3 60.7A4.4 4.4 0 0 1 1372.0 59.2L1377.6 106.1ZM1394.0 110.5L1422.3 72.7A4.4 4.4 0 0 1 1429.1 78.4L1396.8 112.8ZM1386.5 106.8L1400.2 61.7A4.4 4.4 0 0 1 1408.5 64.7L1389.9 108.1ZM1401.9 120.1L1445.3 101.5A4.4 4.4 0 0 1 1448.3 109.8L1403.2 123.5ZM1397.2 113.2L1431.6 80.9A4.4 4.4 0 0 1 1437.3 87.7L1399.5 116.0ZM1403.9 132.4L1450.8 138.0A4.4 4.4 0 0 1 1449.3 146.7L1403.3 135.9ZM1403.3 124.1L1449.3 113.3A4.4 4.4 0 0 1 1450.8 122.0L1403.9 127.6ZM1399.5 144.0L1437.3 172.3A4.4 4.4 0 0 1 1431.6 179.1L1397.2 146.8ZM1403.2 136.5L1448.3 150.2A4.4 4.4 0 0 1 1445.3 158.5L1401.9 139.9ZM1389.9 151.9L1408.5 195.3A4.4 4.4 0 0 1 1400.2 198.3L1386.5 153.2ZM1396.8 147.2L1429.1 181.6A4.4 4.4 0 0 1 1422.3 187.3L1394.0 149.5ZM1377.6 153.9L1372.0 200.8A4.4 4.4 0 0 1 1363.3 199.3L1374.1 153.3ZM1385.9 153.3L1396.7 199.3A4.4 4.4 0 0 1 1388.0 200.8L1382.4 153.9ZM1366.0 149.5L1337.7 187.3A4.4 4.4 0 0 1 1330.9 181.6L1363.2 147.2ZM1373.5 153.2L1359.8 198.3A4.4 4.4 0 0 1 1351.5 195.3L1370.1 151.9ZM1358.1 139.9L1314.7 158.5A4.4 4.4 0 0 1 1311.7 150.2L1356.8 136.5ZM1362.8 146.8L1328.4 179.1A4.4 4.4 0 0 1 1322.7 172.3L1360.5 144.0ZM1356.1 127.6L1309.2 122.0A4.4 4.4 0 0 1 1310.7 113.3L1356.7 124.1ZM1356.7 135.9L1310.7 146.7A4.4 4.4 0 0 1 1309.2 138.0L1356.1 132.4ZM1360.5 116.0L1322.7 87.7A4.4 4.4 0 0 1 1328.4 80.9L1362.8 113.2ZM1356.8 123.5L1311.7 109.8A4.4 4.4 0 0 1 1314.7 101.5L1358.1 120.1ZM1370.1 108.1L1351.5 64.7A4.4 4.4 0 0 1 1359.8 61.7L1373.5 106.8ZM1363.2 112.8L1330.9 78.4A4.4 4.4 0 0 1 1337.7 72.7L1366.0 110.5Z"/><path d="M1380.1 105.9L1382.0 49.4A5.0 5.0 0 0 1 1392.0 50.2L1384.1 106.3ZM1375.9 106.3L1368.0 50.2A5.0 5.0 0 0 1 1378.0 49.4L1379.9 105.9ZM1392.1 109.2L1422.1 61.2A5.0 5.0 0 0 1 1430.3 66.9L1395.4 111.5ZM1388.3 107.4L1409.5 54.9A5.0 5.0 0 0 1 1418.6 59.2L1392.0 109.1ZM1400.9 118.0L1450.8 91.4A5.0 5.0 0 0 1 1455.1 100.5L1402.6 121.7ZM1398.5 114.6L1443.1 79.7A5.0 5.0 0 0 1 1448.8 87.9L1400.8 117.9ZM1404.1 130.1L1460.6 132.0A5.0 5.0 0 0 1 1459.8 142.0L1403.7 134.1ZM1403.7 125.9L1459.8 118.0A5.0 5.0 0 0 1 1460.6 128.0L1404.1 129.9ZM1400.8 142.1L1448.8 172.1A5.0 5.0 0 0 1 1443.1 180.3L1398.5 145.4ZM1402.6 138.3L1455.1 159.5A5.0 5.0 0 0 1 1450.8 168.6L1400.9 142.0ZM1392.0 150.9L1418.6 200.8A5.0 5.0 0 0 1 1409.5 205.1L1388.3 152.6ZM1395.4 148.5L1430.3 193.1A5.0 5.0 0 0 1 1422.1 198.8L1392.1 150.8ZM1379.9 154.1L1378.0 210.6A5.0 5.0 0 0 1 1368.0 209.8L1375.9 153.7ZM1384.1 153.7L1392.0 209.8A5.0 5.0 0 0 1 1382.0 210.6L1380.1 154.1ZM1367.9 150.8L1337.9 198.8A5.0 5.0 0 0 1 1329.7 193.1L1364.6 148.5ZM1371.7 152.6L1350.5 205.1A5.0 5.0 0 0 1 1341.4 200.8L1368.0 150.9ZM1359.1 142.0L1309.2 168.6A5.0 5.0 0 0 1 1304.9 159.5L1357.4 138.3ZM1361.5 145.4L1316.9 180.3A5.0 5.0 0 0 1 1311.2 172.1L1359.2 142.1ZM1355.9 129.9L1299.4 128.0A5.0 5.0 0 0 1 1300.2 118.0L1356.3 125.9ZM1356.3 134.1L1300.2 142.0A5.0 5.0 0 0 1 1299.4 132.0L1355.9 130.1ZM1359.2 117.9L1311.2 87.9A5.0 5.0 0 0 1 1316.9 79.7L1361.5 114.6ZM1357.4 121.7L1304.9 100.5A5.0 5.0 0 0 1 1309.2 91.4L1359.1 118.0ZM1368.0 109.1L1341.4 59.2A5.0 5.0 0 0 1 1350.5 54.9L1371.7 107.4ZM1364.6 111.5L1329.7 66.9A5.0 5.0 0 0 1 1337.9 61.2L1367.9 109.2Z"/><path d="M1377.4 106.0L1373.9 32.1A6.1 6.1 0 0 1 1386.1 32.1L1382.6 106.0ZM1389.7 107.9L1423.7 42.2A6.1 6.1 0 0 1 1434.2 48.3L1394.3 110.5ZM1399.5 115.7L1461.7 75.8A6.1 6.1 0 0 1 1467.8 86.3L1402.1 120.3ZM1404.0 127.4L1477.9 123.9A6.1 6.1 0 0 1 1477.9 136.1L1404.0 132.6ZM1402.1 139.7L1467.8 173.7A6.1 6.1 0 0 1 1461.7 184.2L1399.5 144.3ZM1394.3 149.5L1434.2 211.7A6.1 6.1 0 0 1 1423.7 217.8L1389.7 152.1ZM1382.6 154.0L1386.1 227.9A6.1 6.1 0 0 1 1373.9 227.9L1377.4 154.0ZM1370.3 152.1L1336.3 217.8A6.1 6.1 0 0 1 1325.8 211.7L1365.7 149.5ZM1360.5 144.3L1298.3 184.2A6.1 6.1 0 0 1 1292.2 173.7L1357.9 139.7ZM1356.0 132.6L1282.1 136.1A6.1 6.1 0 0 1 1282.1 123.9L1356.0 127.4ZM1357.9 120.3L1292.2 86.3A6.1 6.1 0 0 1 1298.3 75.8L1360.5 115.7ZM1365.7 110.5L1325.8 48.3A6.1 6.1 0 0 1 1336.3 42.2L1370.3 107.9Z"/></g><clipPath id="stclip"><path d="M1342.9 89.3H1416.3V145.5C1416.3 160 1400.6 175.5 1379.6 177.2C1358.6 175.5 1342.9 160 1342.9 145.5Z"/></clipPath><g clip-path="url(#stclip)"><rect x="1342.9" y="89.3" width="73.39999999999986" height="88.89999999999999" fill="#fff"/><rect x="1342.9" y="89.30" width="73.39999999999986" height="4.91" fill="#f9b61b"/><rect x="1342.9" y="94.16" width="73.39999999999986" height="4.91" fill="#0a0a0a"/><rect x="1342.9" y="99.02" width="73.39999999999986" height="4.91" fill="#f9b61b"/><rect x="1342.9" y="103.88" width="73.39999999999986" height="4.91" fill="#0a0a0a"/><rect x="1342.9" y="108.74" width="73.39999999999986" height="4.91" fill="#f9b61b"/><rect x="1342.9" y="113.60" width="73.39999999999986" height="4.91" fill="#0a0a0a"/><rect x="1342.9" y="118.46" width="73.39999999999986" height="4.91" fill="#f9b61b"/><rect x="1342.9" y="123.32" width="73.39999999999986" height="4.91" fill="#0a0a0a"/><rect x="1342.9" y="128.18" width="73.39999999999986" height="4.91" fill="#f9b61b"/><rect x="1342.9" y="133.04" width="73.39999999999986" height="4.91" fill="#0a0a0a"/><g fill="#2aa447" stroke="#17702c" stroke-width="0.6"><circle cx="1361.3" cy="94.9" r="1.9"/><circle cx="1358.5" cy="95.6" r="1.8"/><circle cx="1362.2" cy="97.6" r="1.8"/><circle cx="1360.1" cy="97.1" r="1.6"/><circle cx="1375.1" cy="102.3" r="1.9"/><circle cx="1372.3" cy="103.0" r="1.8"/><circle cx="1376.0" cy="105.0" r="1.8"/><circle cx="1373.9" cy="104.5" r="1.6"/><circle cx="1388.9" cy="109.7" r="1.9"/><circle cx="1386.2" cy="110.4" r="1.8"/><circle cx="1389.9" cy="112.4" r="1.8"/><circle cx="1387.7" cy="111.9" r="1.6"/><circle cx="1401.1" cy="116.3" r="1.9"/><circle cx="1398.4" cy="117.0" r="1.8"/><circle cx="1402.1" cy="119.0" r="1.8"/><circle cx="1400.0" cy="118.5" r="1.6"/><circle cx="1412.5" cy="122.4" r="1.9"/><circle cx="1409.8" cy="123.1" r="1.8"/><circle cx="1413.5" cy="125.1" r="1.8"/><circle cx="1411.4" cy="124.6" r="1.6"/></g><clipPath id="bandclip"><rect x="1342.9" y="89.3" width="73.39999999999986" height="48.60000000000001"/></clipPath><g clip-path="url(#bandclip)"><path d="M1341.3 89.1L1422.7 132.8L1417.9 141.7L1336.5 98.0Z" fill="#1f8c3a"/><path d="M1340.6 90.4L1422.0 134.1L1418.6 140.4L1337.2 96.7Z" fill="#34b354"/></g><path d="M1339.0 93.3L1420.4 137.0" stroke="#7fd592" stroke-width="0.9" stroke-dasharray="1.6 2.2" fill="none"/><rect x="1393.8" y="89.3" width="22.5" height="24.799999999999997" fill="#fff" stroke="#111" stroke-width="1"/><path d="M1405.4 93.6L1404.8 92.2L1403.8 91.4L1402.4 91.8L1401.4 93.0L1402.8 93.0L1403.4 94.0L1403.6 95.2L1402.2 94.0L1399.6 93.2L1396.2 91.6L1395.2 92.4L1396.2 93.6L1395.0 94.6L1396.0 95.8L1394.9 96.9L1396.0 98.1L1395.1 99.3L1396.4 100.4L1395.8 101.8L1397.4 102.6L1397.2 104.2L1399.0 104.4L1399.6 105.8L1401.2 104.6L1402.8 104.0L1403.4 102.0L1403.2 105.5L1401.0 107.2L1399.2 107.0L1399.8 108.4L1401.6 108.8L1403.2 107.8L1403.0 109.6L1401.8 111.6L1403.4 111.2L1404.8 112.6L1406.2 111.2L1407.8 111.6L1406.6 109.6L1406.4 107.8L1408.0 108.8L1409.8 108.4L1410.4 107.0L1408.6 107.2L1406.4 105.5L1406.2 102.0L1406.8 104.0L1408.4 104.6L1410.0 105.8L1410.6 104.4L1412.4 104.2L1412.2 102.6L1413.8 101.8L1413.2 100.4L1414.5 99.3L1413.6 98.1L1414.7 96.9L1413.6 95.8L1414.6 94.6L1413.4 93.6L1414.4 92.4L1413.4 91.6L1410.0 93.2L1407.4 94.0L1406.0 95.2L1406.4 94.6Z" fill="#0a0a0a"/><path d="M1395.6 94.9L1400.6 95.4M1414.0 94.9L1409.0 95.4M1395.6 97.0L1400.6 97.5M1414.0 97.0L1409.0 97.5M1395.6 99.2L1400.6 99.7M1414.0 99.2L1409.0 99.7M1395.6 101.4L1400.6 101.9M1414.0 101.4L1409.0 101.9" stroke="#fff" stroke-width="0.35" fill="none" opacity="0.7"/><path d="M1398.6 108.6l2.2 -1M1411.0 108.6l-2.2 -1" stroke="#c9a52a" stroke-width="1.4" fill="none"/><circle cx="1403.6" cy="92.4" r="0.35" fill="#fff"/><path d="M1342.9 162.2H1416.3V180H1342.9Z" fill="#de241f"/><g fill="#de241f" stroke="#7a100d" stroke-width="0.4"><rect x="1353.2" y="158.5" width="4.3" height="4.2"/><rect x="1363.1" y="158.5" width="4.3" height="4.2"/><rect x="1372.8" y="158.5" width="4.3" height="4.2"/><rect x="1382.5" y="158.5" width="4.3" height="4.2"/><rect x="1392.1" y="158.5" width="4.3" height="4.2"/><rect x="1401.8" y="158.5" width="4.3" height="4.2"/></g><path d="M1342.9 164.9H1416.3M1342.9 167.6H1416.3M1342.9 170.3H1416.3M1342.9 173.0H1416.3M1342.9 175.7H1416.3" stroke="#98150f" stroke-width="0.5" fill="none"/><path d="M1343.9 162.2v2.7M1349.1 162.2v2.7M1354.3 162.2v2.7M1359.5 162.2v2.7M1364.7 162.2v2.7M1369.9 162.2v2.7M1375.1 162.2v2.7M1380.3 162.2v2.7M1385.5 162.2v2.7M1390.7 162.2v2.7M1395.9 162.2v2.7M1401.1 162.2v2.7M1406.3 162.2v2.7M1411.5 162.2v2.7M1346.5 164.9v2.7M1351.7 164.9v2.7M1356.9 164.9v2.7M1362.1 164.9v2.7M1367.3 164.9v2.7M1372.5 164.9v2.7M1377.7 164.9v2.7M1382.9 164.9v2.7M1388.1 164.9v2.7M1393.3 164.9v2.7M1398.5 164.9v2.7M1403.7 164.9v2.7M1408.9 164.9v2.7M1414.1 164.9v2.7M1343.9 167.6v2.7M1349.1 167.6v2.7M1354.3 167.6v2.7M1359.5 167.6v2.7M1364.7 167.6v2.7M1369.9 167.6v2.7M1375.1 167.6v2.7M1380.3 167.6v2.7M1385.5 167.6v2.7M1390.7 167.6v2.7M1395.9 167.6v2.7M1401.1 167.6v2.7M1406.3 167.6v2.7M1411.5 167.6v2.7M1346.5 170.3v2.7M1351.7 170.3v2.7M1356.9 170.3v2.7M1362.1 170.3v2.7M1367.3 170.3v2.7M1372.5 170.3v2.7M1377.7 170.3v2.7M1382.9 170.3v2.7M1388.1 170.3v2.7M1393.3 170.3v2.7M1398.5 170.3v2.7M1403.7 170.3v2.7M1408.9 170.3v2.7M1414.1 170.3v2.7M1343.9 173.0v2.7M1349.1 173.0v2.7M1354.3 173.0v2.7M1359.5 173.0v2.7M1364.7 173.0v2.7M1369.9 173.0v2.7M1375.1 173.0v2.7M1380.3 173.0v2.7M1385.5 173.0v2.7M1390.7 173.0v2.7M1395.9 173.0v2.7M1401.1 173.0v2.7M1406.3 173.0v2.7M1411.5 173.0v2.7M1346.5 175.7v2.7M1351.7 175.7v2.7M1356.9 175.7v2.7M1362.1 175.7v2.7M1367.3 175.7v2.7M1372.5 175.7v2.7M1377.7 175.7v2.7M1382.9 175.7v2.7M1388.1 175.7v2.7M1393.3 175.7v2.7M1398.5 175.7v2.7M1403.7 175.7v2.7M1408.9 175.7v2.7M1414.1 175.7v2.7" stroke="#98150f" stroke-width="0.45" fill="none"/><path d="M1377 178V170a3.3 3.3 0 0 1 6.6 0V178Z" fill="#fff" stroke="#7a100d" stroke-width="0.5"/><path d="M1362.5 146.6L1363.6 144.6L1365.6 143.2L1367.4 141.6L1369.2 141.8L1371.4 141.0L1375 140.0L1379 139.7L1383 140.2L1387.5 142.0L1391.5 144.6L1394.6 147.6L1396.6 151.0L1397.5 154.5L1397.7 158.4L1394.6 158.5L1394.4 156.0L1393.2 153.4L1391.2 152.6L1390.2 155.0L1389.6 158.3L1385.8 158.4L1386.0 156.6L1387.0 155.2L1386.6 152.4L1383.0 152.2L1380.0 151.6L1379.4 154.6L1378.8 158.3L1375.0 158.4L1375.2 156.8L1376.0 155.6L1375.8 152.4L1373.6 151.6L1370.4 154.4L1367.2 156.8L1364.4 157.4L1363.6 155.6L1366.2 154.0L1368.8 151.0L1368.4 149.6L1366.2 149.8L1364.0 149.2L1362.6 148.2Z" fill="#0a0a0a" stroke="#0a0a0a" stroke-width="0.6" stroke-linejoin="round"/><path d="M1342.9 137.9H1416.3" stroke="#111" stroke-width="0.8"/></g><path d="M1342.9 89.3H1416.3V145.5C1416.3 160 1400.6 175.5 1379.6 177.2C1358.6 175.5 1342.9 160 1342.9 145.5Z" fill="none" stroke="#111" stroke-width="1.4"/></svg>
</body></html>
